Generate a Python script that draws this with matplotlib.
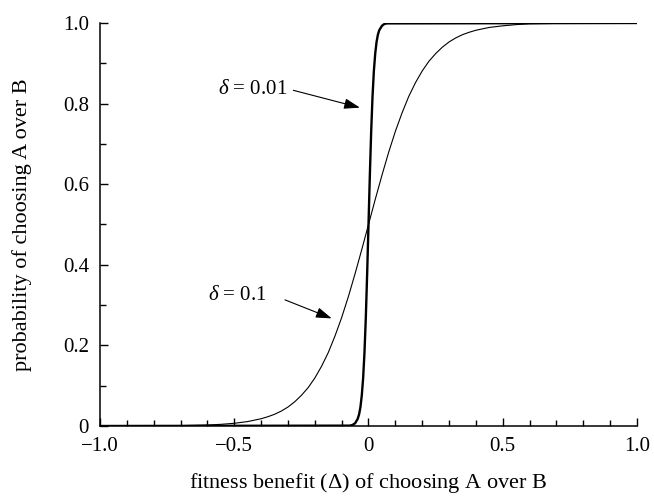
import matplotlib
matplotlib.use("Agg")
import matplotlib.pyplot as plt
from matplotlib.ticker import MultipleLocator, FixedLocator

plt.rcParams['font.family'] = ['Liberation Serif', 'DejaVu Serif']
plt.rcParams['mathtext.fontset'] = 'custom'
plt.rcParams['mathtext.rm'] = 'Liberation Serif'
plt.rcParams['mathtext.it'] = 'Liberation Serif:italic'

# ---- data ----
x_wide = [-1.0, -0.9, -0.8, -0.7, -0.6, -0.55, -0.5, -0.45, -0.4, -0.375, -0.35,
          -0.325, -0.3, -0.275, -0.25, -0.225, -0.2, -0.175, -0.15, -0.125, -0.1,
          -0.075, -0.05, -0.025, 0.0, 0.025, 0.05, 0.075, 0.1, 0.125, 0.15, 0.175,
          0.2, 0.225, 0.25, 0.275, 0.3, 0.325, 0.35, 0.375, 0.4, 0.45, 0.5, 0.55,
          0.6, 0.7, 0.8, 1.0]
p_wide = [0.0, 0.0001, 0.0003, 0.0009, 0.0025, 0.0041, 0.0067, 0.011, 0.018, 0.023,
          0.029, 0.037, 0.047, 0.060, 0.076, 0.095, 0.119, 0.148, 0.182, 0.223,
          0.269, 0.321, 0.378, 0.438, 0.5, 0.562, 0.622, 0.679, 0.731, 0.777,
          0.818, 0.852, 0.881, 0.905, 0.924, 0.940, 0.953, 0.963, 0.971, 0.977,
          0.982, 0.989, 0.993, 0.996, 0.998, 0.999, 1.0, 1.0]

x_narrow = [-1.0, -0.07, -0.06, -0.05, -0.04, -0.035, -0.03, -0.025, -0.02, -0.015,
            -0.01, -0.005, 0.0, 0.005, 0.01, 0.015, 0.02, 0.025, 0.03, 0.035,
            0.04, 0.05, 0.06, 0.07, 1.0]
p_narrow = [0.0, 0.0009, 0.0025, 0.0067, 0.018, 0.029, 0.047, 0.076, 0.119, 0.182,
            0.269, 0.378, 0.5, 0.622, 0.731, 0.818, 0.881, 0.924, 0.953, 0.971,
            0.982, 0.993, 0.998, 0.999, 1.0]

x_ticks = [-1.0, -0.5, 0.0, 0.5, 1.0]
x_ticklabels = ['\u22121.0', '\u22120.5', '0', '0.5', '1.0']
y_ticks = [0.0, 0.2, 0.4, 0.6, 0.8, 1.0]
y_ticklabels = ['0', '0.2', '0.4', '0.6', '0.8', '1.0']

label_narrow = r'$\delta$ = 0.01'
label_wide = r'$\delta$ = 0.1'
xlabel = r'fitness benefit ($\mathit{\Delta}$) of choosing A over B'
ylabel = 'probability of choosing A over B'

# ---- figure ----
fig = plt.figure(figsize=(6.54, 4.99), dpi=100)
ax = fig.add_axes([100/654, 1 - 426/499, 537/654, 403/499])

ax.plot(x_wide, p_wide, color='black', lw=0.8)
ax.plot(x_narrow, p_narrow, color='black', lw=1.7)

ax.set_xlim(-1.0, 1.0)
ax.set_ylim(0.0, 1.0)
for s in ['top', 'right']:
    ax.spines[s].set_visible(False)
for s in ['left', 'bottom']:
    ax.spines[s].set_linewidth(1.1)

ax.xaxis.set_major_locator(FixedLocator(x_ticks))
ax.set_xticklabels(x_ticklabels)
ax.yaxis.set_major_locator(FixedLocator(y_ticks))
ax.set_yticklabels(y_ticklabels)
ax.xaxis.set_minor_locator(MultipleLocator(0.1))
ax.yaxis.set_minor_locator(MultipleLocator(0.1))
ax.tick_params(which='major', direction='in', length=6, width=1.0,
               labelsize=15, pad=8)
ax.tick_params(which='minor', direction='in', length=4, width=1.0)

ax.set_xlabel(xlabel, fontsize=16, labelpad=11)
ax.set_ylabel(ylabel, fontsize=16, labelpad=22)

arrow = dict(arrowstyle='-|>,head_length=0.6,head_width=0.2', color='black',
             lw=0.8, mutation_scale=16, shrinkA=0, shrinkB=0)
ax.text(-0.432, 0.835, label_narrow, fontsize=15, ha='center', va='center')
ax.annotate('', xy=(-0.032, 0.79), xytext=(-0.28, 0.833), arrowprops=arrow)
ax.text(-0.488, 0.325, label_wide, fontsize=15, ha='center', va='center')
ax.annotate('', xy=(-0.137, 0.267), xytext=(-0.311, 0.313), arrowprops=arrow)

fig.savefig('out.png', dpi=100)
